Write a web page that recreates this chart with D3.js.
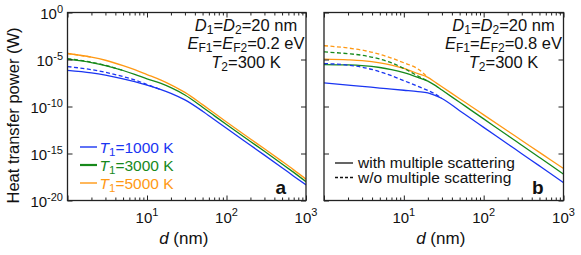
<!DOCTYPE html>
<html><head><meta charset="utf-8">
<script src="https://cdn.jsdelivr.net/npm/d3@7"></script>
<style>
body{margin:0;background:#fff}
text{font-family:"Liberation Sans",Arial,Helvetica,sans-serif;fill:#111}
</style>
</head><body>
<svg id="c" width="581" height="255"></svg>
<script>
// ---- data: distance d (nm) and log10 of heat transfer power (W) ----
const dA = [1,2,3,5,7,10,15,20,30,50,70,100,200,300,500,700,1000];
const aBlue   = [-6.15,-6.42,-6.66,-7.05,-7.35,-7.72,-8.2,-8.6,-9.3,-10.5,-11.38,-12.32,-14.12,-15.17,-16.51,-17.41,-18.34];
const aGreen  = [-4.97,-5.33,-5.64,-6.17,-6.58,-7.05,-7.55,-8.0,-8.78,-10.07,-10.97,-11.92,-13.72,-14.77,-16.11,-17.01,-17.99];
const aOrange = [-4.36,-4.75,-5.08,-5.65,-6.08,-6.6,-7.2,-7.7,-8.5,-9.8,-10.7,-11.65,-13.45,-14.5,-15.84,-16.74,-17.73];
const aBlueDash   = [-5.75,-6.08,-6.36,-6.82,-7.17,-7.66,-8.2,null,null,null,null,null,null,null,null,null,null];
const aGreenDash  = [-4.9,-5.29,-5.62,-6.17,null,null,null,null,null,null,null,null,null,null,null,null,null];
const aOrangeDash = [-4.36,-4.75,null,null,null,null,null,null,null,null,null,null,null,null,null,null,null];

const dB = [1,2,3,5,7,10,15,20,25,30,50,70,100,200,300,500,700,1000];
const bBlue   = [-7.49,-7.72,-7.85,-8.04,-8.15,-8.27,-8.41,-8.55,-8.85,-9.15,-10.45,-11.3,-12.22,-13.98,-15.02,-16.32,-17.18,-18.1];
const bGreen  = [-5.54,-5.58,-5.65,-5.85,-6.08,-6.4,-6.9,-7.3,-7.78,-8.25,-9.55,-10.41,-11.32,-13.09,-14.12,-15.42,-16.28,-17.2];
const bOrange = [-4.95,-5.03,-5.12,-5.35,-5.6,-5.95,-6.5,-6.9,-7.45,-7.9,-9.17,-10.0,-10.89,-12.61,-13.61,-14.88,-15.71,-16.6];
const bBlueDash   = [-5.43,-5.6,-5.82,-6.3,-6.72,-7.25,-7.85,-8.3,-8.7,-9.15,null,null,null,null,null,null,null,null];
const bGreenDash  = [-4.19,-4.38,-4.55,-4.95,-5.35,-5.95,-6.75,-7.3,null,null,null,null,null,null,null,null,null,null];
const bOrangeDash = [-3.53,-3.78,-4.0,-4.45,-4.85,-5.35,-6.0,-6.9,null,null,null,null,null,null,null,null,null,null];

const legendTemps = ["1000","3000","5000"];
const xMajor = [1,10,100,1000];
const xLabelExp = ["1","2","3"];
const yMajorExp = [0,-5,-10,-15,-20];
const annotA = ["0.2"], annotB = ["0.8"];
const panelLetters = ["a","b"];
const lineNames = ["with multiple scattering","w/o multiple scattering"];

// ---- styles ----
const COL = {blue:"#1a35f2", green:"#17891b", orange:"#ff9914"};
const svg = d3.select("#c");
const TOP = 12.5, BOT = 200.5;

const panels = [
  {left:67.5, right:306, d:dA, ef:annotA[0], letter:panelLetters[0],
   series:[[aBlue,COL.blue],[aGreen,COL.green],[aOrange,COL.orange]],
   dashed:[[aBlueDash,COL.blue],[aGreenDash,COL.green],[aOrangeDash,COL.orange]], yLabels:true},
  {left:324, right:563.5, d:dB, ef:annotB[0], letter:panelLetters[1],
   series:[[bBlue,COL.blue],[bGreen,COL.green],[bOrange,COL.orange]],
   dashed:[[bBlueDash,COL.blue],[bGreenDash,COL.green],[bOrangeDash,COL.orange]], yLabels:false}
];

const minorX = [];
for (let k=0;k<3;k++) for (let m=2;m<=9;m++) minorX.push(m*Math.pow(10,k));

panels.forEach((p,pi)=>{
  const x = d3.scaleLog().domain([1,1000]).range([p.left,p.right]);
  const y = d3.scaleLog().domain([1,1e-20]).range([TOP,BOT]);
  const g = svg.append("g");
  const cid = "clip"+pi;
  svg.append("clipPath").attr("id",cid).append("rect")
    .attr("x",p.left).attr("y",TOP).attr("width",p.right-p.left).attr("height",BOT-TOP);

  const line = d3.line().defined(d=>d.v!=null)
    .x(d=>x(d.d)).y(d=>y(Math.pow(10,d.v))).curve(d3.curveMonotoneX);
  const cg = g.append("g").attr("clip-path",`url(#${cid})`);
  p.series.forEach(([vals,c])=>{
    cg.append("path").datum(p.d.map((d,i)=>({d,v:vals[i]})))
      .attr("d",line).attr("fill","none").attr("stroke",c).attr("stroke-width",1.3);
  });
  p.dashed.forEach(([vals,c])=>{
    cg.append("path").datum(p.d.map((d,i)=>({d,v:vals[i]})))
      .attr("d",line).attr("fill","none").attr("stroke",c).attr("stroke-width",1.3)
      .attr("stroke-dasharray","4,2.5");
  });

  // axes with inward ticks
  const axStyle = sel=>{sel.select(".domain").remove(); sel.selectAll("line").attr("stroke","#222").attr("stroke-width",1); sel.selectAll("text").remove();};
  g.append("g").attr("transform",`translate(0,${BOT})`).call(d3.axisBottom(x).tickValues(xMajor).tickSize(-5).tickFormat("")).call(axStyle);
  g.append("g").attr("transform",`translate(0,${BOT})`).call(d3.axisBottom(x).tickValues(minorX).tickSize(-3).tickFormat("")).call(axStyle);
  g.append("g").attr("transform",`translate(0,${TOP})`).call(d3.axisTop(x).tickValues(xMajor).tickSize(-5).tickFormat("")).call(axStyle);
  g.append("g").attr("transform",`translate(0,${TOP})`).call(d3.axisTop(x).tickValues(minorX).tickSize(-3).tickFormat("")).call(axStyle);
  const yTicks = yMajorExp.map(e=>Math.pow(10,e));
  g.append("g").attr("transform",`translate(${p.left},0)`).call(d3.axisLeft(y).tickValues(yTicks).tickSize(-5).tickFormat("")).call(axStyle);
  g.append("g").attr("transform",`translate(${p.right},0)`).call(d3.axisRight(y).tickValues(yTicks).tickSize(-5).tickFormat("")).call(axStyle);

  g.append("rect").attr("x",p.left).attr("y",TOP).attr("width",p.right-p.left).attr("height",BOT-TOP)
    .attr("fill","none").attr("stroke","#222").attr("stroke-width",1.3);

  // x tick labels
  xMajor.slice(1).forEach((v,i)=>{
    const t = g.append("text").attr("x",x(v)).attr("y",222.5).attr("text-anchor","middle").style("font-size","15px");
    t.append("tspan").text("10");
    t.append("tspan").attr("dy",-6.5).style("font-size","11px").text(xLabelExp[i]);
  });
  // x axis title
  const xt = g.append("text").attr("x",(p.left+p.right)/2 - 3).attr("y",243.5).attr("text-anchor","middle").style("font-size","17px");
  xt.append("tspan").style("font-style","italic").text("d");
  xt.append("tspan").text(" (nm)");

  // y tick labels
  if (p.yLabels) {
    yMajorExp.forEach(e=>{
      const t = g.append("text").attr("x",63).attr("y",y(Math.pow(10,e))+6.5).attr("text-anchor","end").style("font-size","15px");
      t.append("tspan").text("10");
      t.append("tspan").attr("dy",-6.5).style("font-size","11px").text(String(e));
    });
  }

  // annotation
  const cx = p.right - 60;
  const FS = "16.5px", SS = "12px";
  const a1 = g.append("text").attr("x",cx).attr("y",31).attr("text-anchor","middle").style("font-size",FS);
  a1.append("tspan").style("font-style","italic").text("D");
  a1.append("tspan").attr("dy",3).style("font-size",SS).text("1");
  a1.append("tspan").attr("dy",-3).text("=");
  a1.append("tspan").style("font-style","italic").text("D");
  a1.append("tspan").attr("dy",3).style("font-size",SS).text("2");
  a1.append("tspan").attr("dy",-3).text("=20 nm");
  const a2 = g.append("text").attr("x",cx).attr("y",49.3).attr("text-anchor","middle").style("font-size",FS);
  a2.append("tspan").style("font-style","italic").text("E");
  a2.append("tspan").attr("dy",3).style("font-size",SS).text("F1");
  a2.append("tspan").attr("dy",-3).text("=");
  a2.append("tspan").style("font-style","italic").text("E");
  a2.append("tspan").attr("dy",3).style("font-size",SS).text("F2");
  a2.append("tspan").attr("dy",-3).text("="+p.ef+" eV");
  const a3 = g.append("text").attr("x",cx).attr("y",67.6).attr("text-anchor","middle").style("font-size",FS);
  a3.append("tspan").style("font-style","italic").text("T");
  a3.append("tspan").attr("dy",3).style("font-size",SS).text("2");
  a3.append("tspan").attr("dy",-3).text("=300 K");

  // panel letter
  g.append("text").attr("x",p.right-20).attr("y",193.5).attr("text-anchor","end")
    .style("font-size","19px").style("font-weight","bold").text(p.letter);
});

// y axis title
svg.append("text").attr("transform","translate(19,115.5) rotate(-90)").attr("text-anchor","middle")
  .style("font-size","16.5px").text("Heat transfer power (W)");

// legend panel a (temperatures)
const legCols = [COL.blue, COL.green, COL.orange];
legendTemps.forEach((tv,i)=>{
  const yy = 147 + i*18;
  svg.append("line").attr("x1",80).attr("x2",97).attr("y1",yy).attr("y2",yy)
    .attr("stroke",legCols[i]).attr("stroke-width", i===1?2.2:1.4);
  const t = svg.append("text").attr("x",99.5).attr("y",yy+5.5).style("font-size","15.5px").style("fill",legCols[i]);
  t.append("tspan").style("font-style","italic").style("fill",legCols[i]).text("T");
  t.append("tspan").attr("dy",3).style("font-size","11.5px").style("fill",legCols[i]).text("1");
  t.append("tspan").attr("dy",-3).style("fill",legCols[i]).text("="+tv+" K");
});

// legend panel b (line styles)
lineNames.forEach((nm,i)=>{
  const yy = 163 + i*14.5;
  svg.append("line").attr("x1",335).attr("x2",353).attr("y1",yy).attr("y2",yy)
    .attr("stroke","#111").attr("stroke-width",1.3).attr("stroke-dasharray", i===0?null:"3,2");
  svg.append("text").attr("x",358).attr("y",yy+5).style("font-size","15.5px").text(nm);
});
</script>
</body></html>
